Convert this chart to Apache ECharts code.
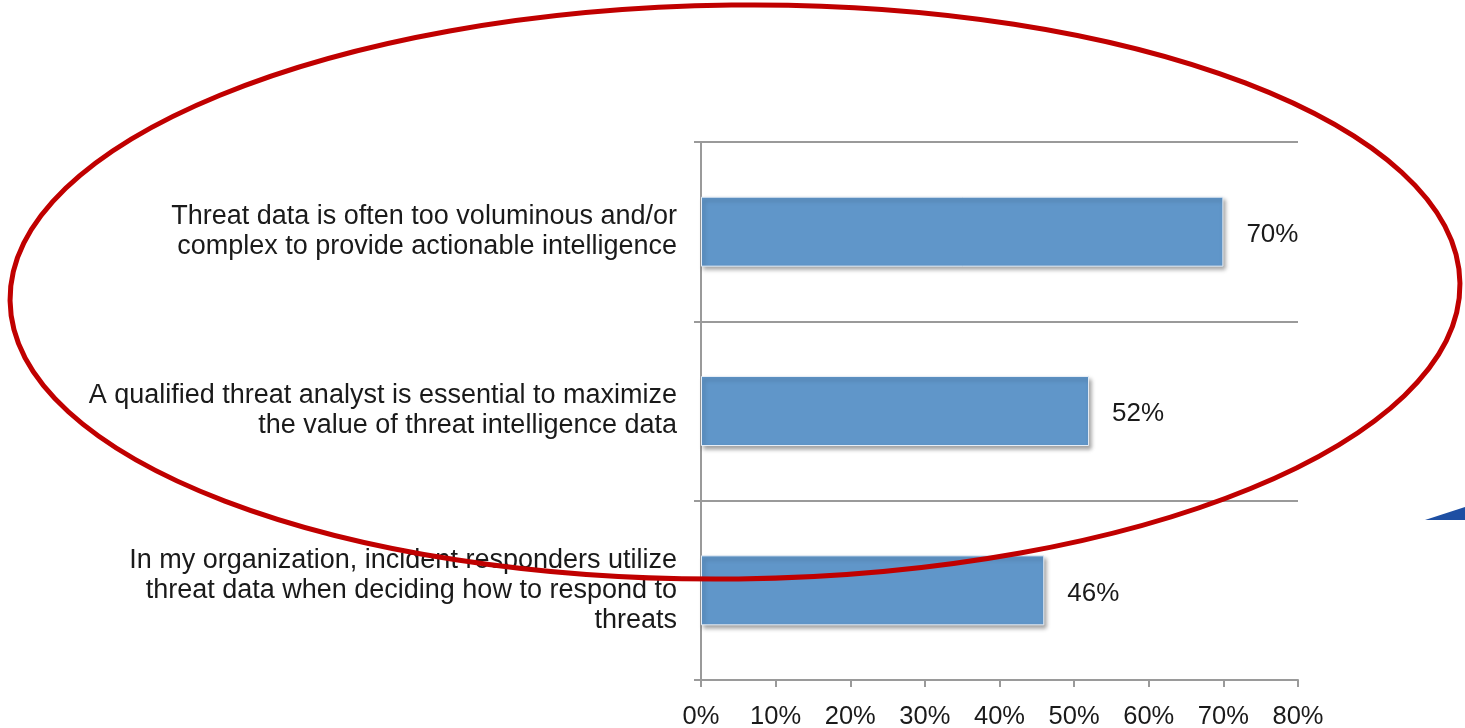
<!DOCTYPE html>
<html>
<head>
<meta charset="utf-8">
<script src="https://cdn.jsdelivr.net/npm/echarts@6/dist/echarts.min.js"></script>
<style>
  html, body { margin: 0; padding: 0; background: #ffffff; }
  #chart { width: 1465px; height: 728px; }
</style>
</head>
<body>
<div id="chart"></div>
<script>
// Survey statements (top to bottom) and share of respondents agreeing (%)
const categories = [
  'Threat data is often too voluminous and/or\ncomplex to provide actionable intelligence',
  'A qualified threat analyst is essential to maximize\nthe value of threat intelligence data',
  'In my organization, incident responders utilize\nthreat data when deciding how to respond to\nthreats'
];
const agreeValues = [70, 52, 46];
const axisMax = 80;
const axisStep = 10;

const FONT = '"Liberation Sans", Arial, sans-serif';
const chart = echarts.init(document.getElementById('chart'), null, { renderer: 'canvas' });

chart.setOption({
  backgroundColor: '#ffffff',
  animation: false,
  grid: {
    left: 701, right: 167, top: 142, bottom: 48,
    containLabel: false,
    outerBoundsMode: 'none'
  },
  xAxis: {
    type: 'value',
    min: 0,
    max: axisMax,
    interval: axisStep,
    axisLine: { show: true, lineStyle: { color: '#9a9a9a', width: 2 } },
    axisTick: { show: true, length: 7, lineStyle: { color: '#9a9a9a', width: 2 } },
    splitLine: { show: false },
    axisLabel: {
      formatter: '{value}%',
      color: '#1a1a1a',
      fontFamily: FONT,
      fontSize: 25.5,
      margin: 24
    }
  },
  yAxis: {
    type: 'category',
    inverse: true,
    data: categories,
    axisLine: { show: true, lineStyle: { color: '#9a9a9a', width: 2 } },
    axisTick: { show: true, length: 7, lineStyle: { color: '#9a9a9a', width: 2 } },
    splitLine: { show: true, lineStyle: { color: '#9a9a9a', width: 2 } },
    axisLabel: {
      color: '#1a1a1a',
      fontFamily: FONT,
      fontSize: 27,
      lineHeight: 30,
      align: 'right',
      margin: 24,
      padding: [6, 0, 0, 0]
    }
  },
  series: [{
    type: 'bar',
    data: agreeValues,
    barWidth: 70,
    itemStyle: {
      color: '#6096c9',
      borderColor: '#e6eef7',
      borderWidth: 1,
      shadowColor: 'rgba(0,0,0,0.35)',
      shadowBlur: 4,
      shadowOffsetX: 2,
      shadowOffsetY: 3
    },
    label: {
      show: true,
      position: 'right',
      distance: 23,
      offset: [0, 3],
      formatter: '{c}%',
      color: '#1a1a1a',
      fontFamily: FONT,
      fontSize: 26
    }
  }],
  graphic: [
    {
      // red highlight ring around the top two statements
      type: 'ellipse',
      shape: { cx: 735, cy: 292, rx: 725, ry: 287 },
      rotation: 0.012,
      originX: 735,
      originY: 292,
      style: { fill: 'none', stroke: '#c00000', lineWidth: 5 },
      z: 100
    },
    {
      // blue wedge at the right edge
      type: 'polygon',
      shape: { points: [[1425, 520], [1465, 507], [1465, 520]] },
      style: { fill: '#1e4fa3' },
      z: 50
    }
  ]
});
</script>
</body>
</html>
